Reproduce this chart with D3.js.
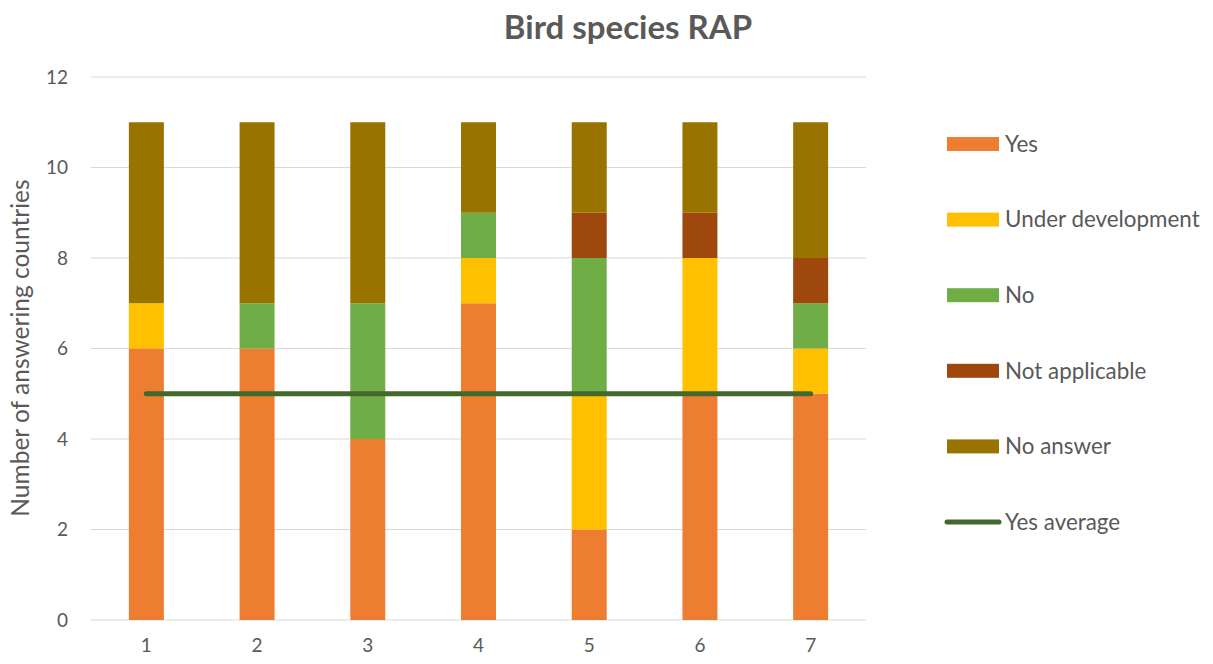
<!DOCTYPE html>
<html><head><meta charset="utf-8">
<script src="https://cdn.jsdelivr.net/npm/d3@7"></script>
<style>body{margin:0;background:#fff}svg{display:block}</style>
</head><body>
<svg id="c" width="1213" height="664"></svg>
<script>
const categories = ["1","2","3","4","5","6","7"];
const seriesNames = ["Yes","Under development","No","Not applicable","No answer"];
const yesValues = [6,6,4,7,2,5,5];
const underDevValues = [1,0,0,1,3,3,1];
const noValues = [0,1,3,1,3,0,1];
const notApplicableValues = [0,0,0,0,1,1,1];
const noAnswerValues = [4,4,4,2,2,2,3];
const yesAverage = [5,5,5,5,5,5,5];
const yTicks = [0,2,4,6,8,10,12];
const colors = ["#ED7D31","#FFC000","#70AD47","#9E480E","#997300"];
const lineColor = "#43682B";
const textColor = "#595959";
const font = "Lato, sans-serif";

const svg = d3.select("#c");
const m = {l:91, r:866, t:77, b:620};
const x = d3.scaleBand().domain(categories).range([m.l, m.r]).paddingInner(0.684).paddingOuter(0.342);
const y = d3.scaleLinear().domain([0,12]).range([m.b, m.t]);

svg.append("g").selectAll("line").data(yTicks).join("line")
  .attr("x1", m.l).attr("x2", m.r)
  .attr("y1", d=>y(d)).attr("y2", d=>y(d))
  .attr("stroke", "#D9D9D9").attr("stroke-width", 1);

const rows = categories.map((c,i)=>({cat:c, "Yes":yesValues[i], "Under development":underDevValues[i], "No":noValues[i], "Not applicable":notApplicableValues[i], "No answer":noAnswerValues[i]}));
const stack = d3.stack().keys(seriesNames)(rows);
svg.append("g").selectAll("g").data(stack).join("g")
  .attr("fill", (d,i)=>colors[i])
  .selectAll("rect").data(d=>d).join("rect")
  .attr("x", d=>x(d.data.cat)).attr("width", x.bandwidth())
  .attr("y", d=>y(d[1])).attr("height", d=>y(d[0])-y(d[1]));

const line = d3.line().x((d,i)=>x(categories[i])+x.bandwidth()/2).y(d=>y(d));
svg.append("path").datum(yesAverage).attr("d", line)
  .attr("fill","none").attr("stroke", lineColor).attr("stroke-width", 5).attr("stroke-linecap","round");

const yAxis = d3.axisLeft(y).tickValues(yTicks).tickSize(0).tickPadding(23);
const ga = svg.append("g").attr("transform", `translate(${m.l},0)`).call(yAxis);
ga.select(".domain").remove();
ga.selectAll("text").attr("fill", textColor).attr("font-family", font).attr("font-size", 19);

const xAxis = d3.axisBottom(x).tickSize(0).tickPadding(19);
const gx = svg.append("g").attr("transform", `translate(0,${m.b})`).call(xAxis);
gx.select(".domain").remove();
gx.selectAll("text").attr("fill", textColor).attr("font-family", font).attr("font-size", 19);

svg.append("text").attr("x", 628).attr("y", 39).attr("text-anchor","middle")
  .attr("font-family", font).attr("font-weight","bold").attr("font-size", 33)
  .attr("fill", textColor).text("Bird species RAP");

svg.append("text").attr("transform", "translate(29,348) rotate(-90)").attr("text-anchor","middle")
  .attr("font-family", font).attr("font-size", 24.5).attr("fill", textColor)
  .text("Number of answering countries");

const legendItems = seriesNames.concat(["Yes average"]);
const lg = svg.append("g").selectAll("g").data(legendItems).join("g")
  .attr("transform", (d,i)=>`translate(947,${144 + i*75.6})`);
lg.each(function(d,i){
  const g = d3.select(this);
  if (i < 5) {
    g.append("rect").attr("x",0).attr("y",-7).attr("width",52).attr("height",14).attr("fill", colors[i]);
  } else {
    g.append("line").attr("x1",0).attr("x2",52).attr("y1",0).attr("y2",0)
      .attr("stroke", lineColor).attr("stroke-width",5).attr("stroke-linecap","round");
  }
  g.append("text").attr("x",58).attr("y",0).attr("dy","0.35em")
    .attr("font-family", font).attr("font-size",22.4).attr("fill", textColor).text(d);
});
</script>
</body></html>
